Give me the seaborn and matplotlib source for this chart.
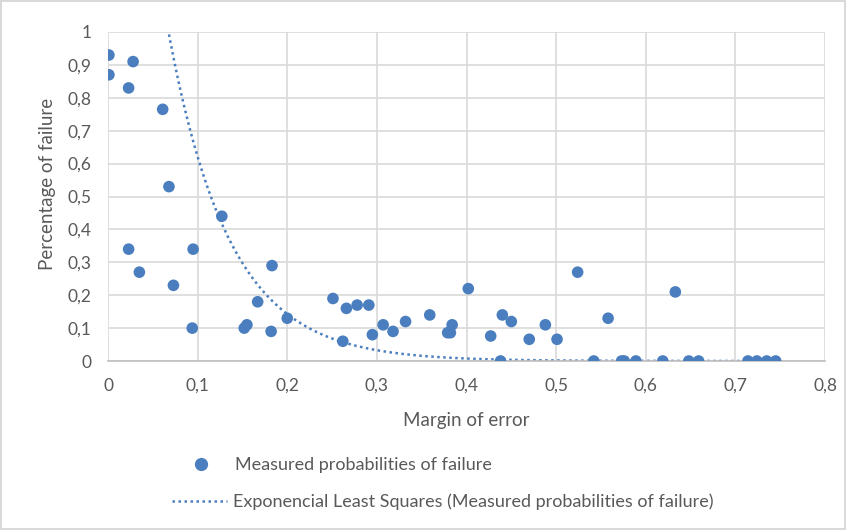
import numpy as np
import pandas as pd
import seaborn as sns
import matplotlib.pyplot as plt
from matplotlib.ticker import FuncFormatter
from matplotlib.lines import Line2D

# measured points
margin = [0.001, 0.001, 0.028, 0.023, 0.061, 0.068, 0.023, 0.035, 0.073, 0.095,
          0.094, 0.127, 0.183, 0.167, 0.152, 0.155, 0.182, 0.200, 0.251, 0.266,
          0.278, 0.291, 0.262, 0.295, 0.307, 0.318, 0.332, 0.359, 0.379, 0.382,
          0.384, 0.402, 0.427, 0.440, 0.450, 0.438, 0.470, 0.488, 0.501, 0.524,
          0.558, 0.542, 0.573, 0.576, 0.589, 0.619, 0.633, 0.648, 0.659, 0.714,
          0.724, 0.735, 0.745]
failure = [0.93, 0.87, 0.91, 0.83, 0.765, 0.53, 0.34, 0.27, 0.23, 0.34,
           0.10, 0.44, 0.29, 0.18, 0.10, 0.11, 0.09, 0.13, 0.19, 0.16,
           0.17, 0.17, 0.06, 0.08, 0.11, 0.09, 0.12, 0.14, 0.086, 0.086,
           0.11, 0.22, 0.076, 0.14, 0.12, 0.0, 0.066, 0.11, 0.066, 0.27,
           0.13, 0.0, 0.0, 0.0, 0.0, 0.0, 0.21, 0.0, 0.0, 0.0,
           0.0, 0.0, 0.0]

# exponential trendline y = a * exp(b * x)
fit_a = 2.7
fit_b = -14.7

blue = "#4A7EBF"
gray_text = "#595959"
grid_col = "#D9D9D9"

df = pd.DataFrame({"margin": margin, "failure": failure})
xs = np.linspace(0.06, max(margin), 300)
trend = pd.DataFrame({"margin": xs, "failure": fit_a * np.exp(fit_b * xs)})

sns.set_style("white")
plt.rcParams["font.family"] = ["Lato", "DejaVu Sans"]

fig = plt.figure(figsize=(8.46, 5.30), dpi=100)
fig.patch.set_edgecolor(grid_col)
fig.patch.set_linewidth(1.5)
ax = fig.add_axes([108 / 846, 1 - 361 / 530, (825 - 108) / 846, (361 - 32) / 530])

sns.lineplot(data=trend, x="margin", y="failure", ax=ax, color=blue,
             linestyle=(0, (1, 1.4)), linewidth=1.8, zorder=2)
sns.scatterplot(data=df, x="margin", y="failure", ax=ax, color=blue,
                s=70, edgecolor="none", zorder=3)

ax.set_xlim(0, 0.8)
ax.set_ylim(0, 1)
ax.set_xticks(np.arange(0, 0.81, 0.1))
ax.set_yticks(np.arange(0, 1.01, 0.1))
fmt = FuncFormatter(lambda v, p: ("%g" % round(v, 2)).replace(".", ","))
ax.xaxis.set_major_formatter(fmt)
ax.yaxis.set_major_formatter(fmt)
ax.grid(True, color=grid_col, linewidth=1.2, zorder=0)
ax.set_axisbelow(True)
for side in ["top", "right", "left"]:
    ax.spines[side].set_visible(False)
ax.spines["bottom"].set_color("#BFBFBF")
ax.spines["bottom"].set_linewidth(1.2)
ax.tick_params(axis="both", colors=gray_text, labelsize=12.5, length=0, pad=12)

ax.set_xlabel("Margin of error", fontsize=13.5, color=gray_text, labelpad=13)
ax.set_ylabel("Percentage of failure", fontsize=13.5, color=gray_text)
ax.yaxis.set_label_coords(-0.073, 0.538)

h1 = Line2D([], [], marker="o", color=blue, linestyle="none", markersize=8.5)
h2 = Line2D([], [], color=blue, linestyle=(0, (1, 1.4)), linewidth=1.8)
leg1 = fig.legend([h1], ["Measured probabilities of failure"],
                  loc="center left", bbox_to_anchor=(190 / 846, 1 - 465 / 530),
                  frameon=False, fontsize=13, handlelength=1.2, handletextpad=1.28,
                  borderaxespad=0, borderpad=0)
for t in leg1.get_texts():
    t.set_color(gray_text)
leg2 = fig.legend([h2], ["Exponencial Least Squares (Measured probabilities of failure)"],
                  loc="center left", bbox_to_anchor=(172 / 846, 1 - 502 / 530),
                  frameon=False, fontsize=13, handlelength=3.05, handletextpad=0.33,
                  borderaxespad=0, borderpad=0)
for t in leg2.get_texts():
    t.set_color(gray_text)

fig.savefig("out.png", dpi=100, edgecolor=fig.get_edgecolor())
